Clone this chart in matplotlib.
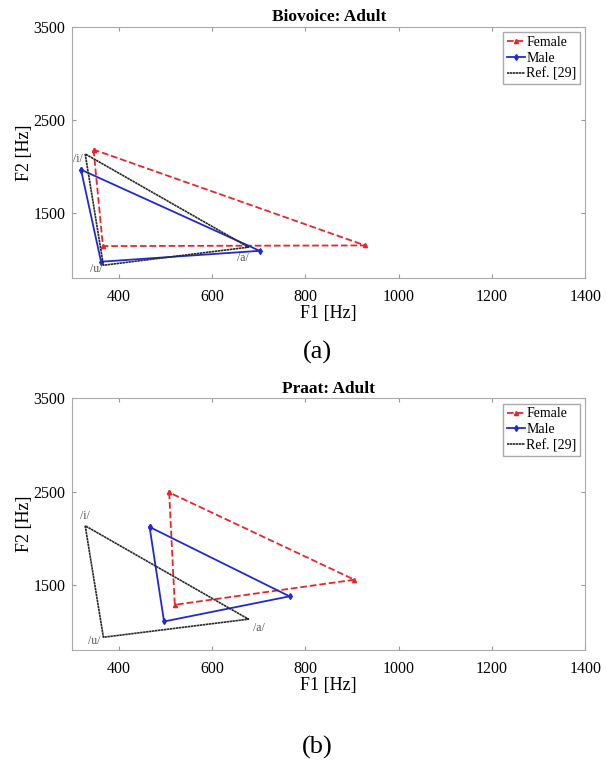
import numpy as np
import matplotlib.pyplot as plt

plt.rcParams['font.family'] = ['Liberation Serif', 'DejaVu Serif']

# vowel order: /i/, /u/, /a/ (closed triangle)
vowels = ['/i/', '/u/', '/a/']

# Ref. [29] (same in both panels)
ref_f1 = [328, 367, 678]
ref_f2 = [2133, 937, 1131]

# Biovoice
bio_female_f1 = [346, 366, 928]
bio_female_f2 = [2180, 1143, 1150]
bio_male_f1 = [319, 362, 702]
bio_male_f2 = [1964, 975, 1092]

# Praat
praat_female_f1 = [508, 520, 905]
praat_female_f2 = [2490, 1285, 1554]
praat_male_f1 = [466, 497, 766]
praat_male_f2 = [2120, 1106, 1376]

# label positions for vowel names (top, bottom panels)
lab_top = [(313, 2080), (352, 895), (667, 1012)]
lab_bot = [(328, 2235), (347, 900), (700, 1032)]


def closed(v):
    return list(v) + [v[0]]


def panel(ax, title, ff1, ff2, mf1, mf2, labs):
    ax.plot(closed(ff1), closed(ff2), color='#e8262a', ls='--', lw=1.3,
            marker='^', ms=3, label='Female')
    ax.plot(closed(mf1), closed(mf2), color='#1f2bd0', ls='-', lw=1.3,
            marker='d', ms=3, label='Male')
    ax.plot(closed(ref_f1), closed(ref_f2), color='#2a2a2a', ls=(0, (1.5, 0.3)),
            lw=1.2, label='Ref. [29]')
    for name, (x, y) in zip(vowels, labs):
        ax.text(x, y, name, fontsize=8.5, color='#555555', ha='center', va='center')
    ax.set_xlim(300, 1400)
    ax.set_ylim(800, 3500)
    ax.set_xticks([400, 600, 800, 1000, 1200, 1400])
    ax.set_yticks([1500, 2500, 3500])
    ax.tick_params(direction='in', length=3, color='#999999', labelsize=11.5,
                   top=True, right=True)
    ax.tick_params(axis='x', pad=8)
    ax.tick_params(axis='y', pad=5)
    for s in ax.spines.values():
        s.set_color('#aaaaaa')
    ax.set_title(title, fontsize=12.5, fontweight='bold', pad=4)
    ax.set_xlabel('F1 [Hz]', fontsize=13, labelpad=0)
    ax.set_ylabel('F2 [Hz]', fontsize=13, labelpad=0)
    leg = ax.legend(loc='upper right', fontsize=10, handlelength=1.3,
                    handletextpad=0.1, labelspacing=0.2, borderpad=0.25,
                    borderaxespad=0.4, fancybox=False, framealpha=1)
    leg.get_frame().set_edgecolor('#aaaaaa')
    leg.get_frame().set_linewidth(1.0)


fig = plt.figure(figsize=(6.06, 7.65), dpi=100)
ax1 = fig.add_axes([0.119, 0.6366, 0.847, 0.3285])
ax2 = fig.add_axes([0.119, 0.1503, 0.847, 0.329])

panel(ax1, 'Biovoice: Adult', bio_female_f1, bio_female_f2,
      bio_male_f1, bio_male_f2, lab_top)
panel(ax2, 'Praat: Adult', praat_female_f1, praat_female_f2,
      praat_male_f1, praat_male_f2, lab_bot)

fig.text(317 / 606, 1 - 352 / 765, '(a)', fontsize=19, ha='center', va='center')
fig.text(317 / 606, 1 - 747 / 765, '(b)', fontsize=19, ha='center', va='center')

plt.savefig('out.png', dpi=100)
